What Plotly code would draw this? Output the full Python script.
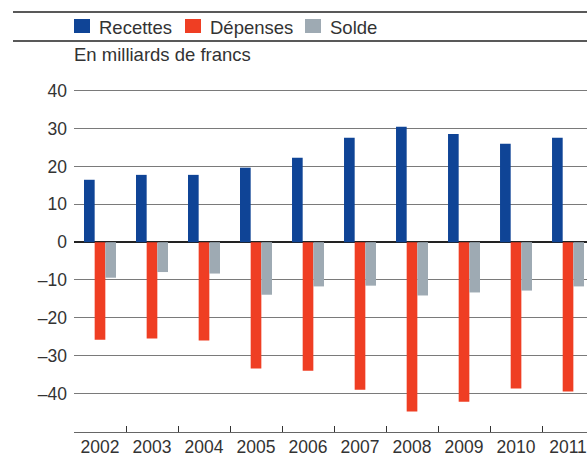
import plotly.graph_objects as go

years = ["2002", "2003", "2004", "2005", "2006", "2007", "2008", "2009", "2010", "2011"]
recettes = [16.5, 17.8, 17.8, 19.7, 22.3, 27.6, 30.5, 28.6, 26.0, 27.6]
depenses = [-25.8, -25.5, -26.0, -33.4, -34.0, -39.0, -44.8, -42.2, -38.7, -39.5]
solde = [-9.4, -7.9, -8.3, -13.9, -11.7, -11.5, -14.1, -13.3, -12.8, -11.7]

series_names = ["Recettes", "Dépenses", "Solde"]
colors = ["#0f4496", "#ef3e23", "#9eaab3"]
ytick_vals = [40, 30, 20, 10, 0, -10, -20, -30, -40]
ytick_text = ["40", "30", "20", "10", "0", "–10", "–20", "–30", "–40"]
unit_label = "En milliards de francs"

FONT = "Liberation Sans, Arial, sans-serif"
TXT = "#333333"

W, H = 587, 455
T, B, L = 72, 23, 74
PH = H - T - B


def py(ypix):
    return (H - B - ypix) / PH


def px(xpix):
    return (xpix - L) / (W - L)


fig = go.Figure()
for name, vals, col in zip(series_names, [recettes, depenses, solde], colors):
    fig.add_trace(go.Bar(x=years, y=vals, name=name, marker_color=col,
                         marker_line_width=0, showlegend=False))

# custom legend
leg_sq_x = [74, 185, 305]
leg_txt_x = [97, 208, 328]
for sx, tx, name, col in zip(leg_sq_x, leg_txt_x, series_names, colors):
    fig.add_shape(type="rect", xref="paper", yref="paper",
                  x0=px(sx), x1=px(sx + 16), y0=py(33), y1=py(19),
                  fillcolor=col, line_width=0)
    fig.add_annotation(xref="paper", yref="paper", x=px(tx), y=py(27.5),
                       text=name, showarrow=False, xanchor="left", yanchor="middle",
                       font=dict(family=FONT, size=18.5, color=TXT))

for yy in [12, 41]:
    fig.add_shape(type="line", xref="paper", yref="paper",
                  x0=px(13), x1=1.0, y0=py(yy), y1=py(yy),
                  line=dict(color="#222222", width=1.5))

fig.add_annotation(xref="paper", yref="paper", x=px(72), y=py(54.5),
                   text=unit_label, showarrow=False, xanchor="left", yanchor="middle",
                   font=dict(family=FONT, size=18.5, color=TXT))

fig.update_layout(
    width=W, height=H,
    margin=dict(l=L, r=0, t=T, b=B),
    barmode="group", bargap=0.385, bargroupgap=0,
    plot_bgcolor="white", paper_bgcolor="white",
    font=dict(family=FONT, size=17.5, color=TXT),
)
fig.update_xaxes(type="category", range=[-0.5, 9.365], showgrid=False,
                 showline=True, linecolor="#666666", linewidth=1.2,
                 ticks="inside", ticklen=6, tickcolor="#333333", tickwidth=1.2,
                 tickson="boundaries", automargin=False, ticklabelstandoff=-1,
                 tickfont=dict(family=FONT, size=17.5, color=TXT))
fig.update_yaxes(range=[-50.2, 45], tickvals=ytick_vals, ticktext=ytick_text,
                 showgrid=True, gridcolor="#7a7a7a", gridwidth=1.3,
                 zeroline=True, zerolinecolor="#222222", zerolinewidth=2,
                 ticks="", automargin=False, ticklabelstandoff=6,
                 tickfont=dict(family=FONT, size=17.5, color=TXT))

fig.write_html("out.html")
